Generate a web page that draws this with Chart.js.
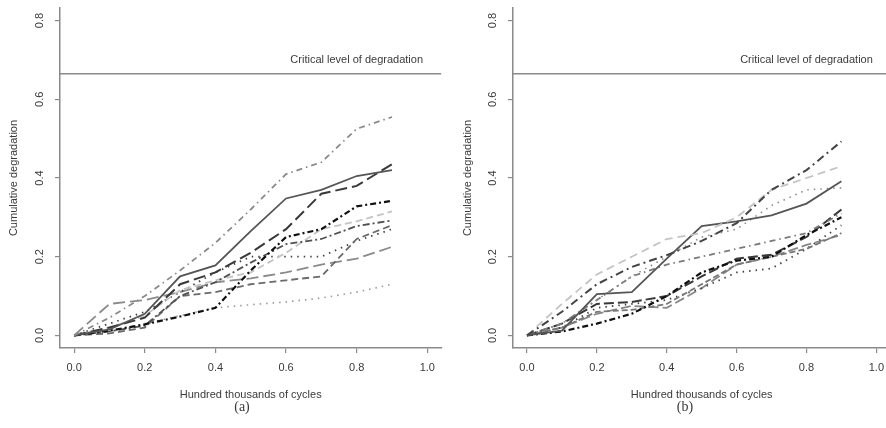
<!DOCTYPE html>
<html>
<head>
<meta charset="utf-8">
<script src="https://cdn.jsdelivr.net/npm/chart.js@4.4.1/dist/chart.umd.min.js"></script>
<style>
  html, body { margin: 0; padding: 0; background: #fff; overflow: hidden; }
  #wrap { position: relative; width: 886px; height: 428px; overflow: hidden; }
  canvas { position: absolute; top: 0; }
  #panelA { left: 0; }
  #panelB { left: 443px; }
</style>
</head>
<body>
<div id="wrap">
  <canvas id="panelA" width="443" height="428"></canvas>
  <canvas id="panelB" width="449" height="428"></canvas>
</div>
<script>
// inspection times (hundred thousands of cycles)
const cycles = [0, 0.1, 0.2, 0.3, 0.4, 0.5, 0.6, 0.7, 0.8, 0.9];
const xTicks = [0, 0.2, 0.4, 0.6, 0.8, 1.0];
const yTicks = [0, 0.2, 0.4, 0.6, 0.8];
const criticalLevel = 0.665;
const criticalText = 'Critical level of degradation';

// panel (a) degradation paths
const pathA1 = [0, 0.045, 0.10, 0.165, 0.235, 0.32, 0.41, 0.44, 0.525, 0.555];
const pathA2 = [0, 0.015, 0.055, 0.15, 0.178, 0.265, 0.348, 0.37, 0.405, 0.42];
const pathA3 = [0, 0.02, 0.045, 0.13, 0.16, 0.21, 0.27, 0.36, 0.38, 0.435];
const pathA4 = [0, 0.012, 0.028, 0.048, 0.07, 0.165, 0.25, 0.27, 0.328, 0.342];
const pathA5 = [0, 0.01, 0.025, 0.10, 0.135, 0.185, 0.232, 0.245, 0.278, 0.292];
const pathA6 = [0, 0.02, 0.05, 0.115, 0.14, 0.16, 0.21, 0.27, 0.29, 0.315];
const pathA7 = [0, 0.005, 0.02, 0.10, 0.11, 0.13, 0.14, 0.15, 0.245, 0.28];
const pathA8 = [0, 0.03, 0.06, 0.11, 0.16, 0.20, 0.20, 0.20, 0.24, 0.27];
const pathA9 = [0, 0.08, 0.09, 0.11, 0.135, 0.145, 0.16, 0.18, 0.195, 0.225];
const pathA10 = [0, 0.01, 0.03, 0.05, 0.07, 0.078, 0.085, 0.095, 0.11, 0.13];

// panel (b) degradation paths
const pathB1 = [0, 0.06, 0.13, 0.174, 0.204, 0.24, 0.285, 0.37, 0.42, 0.493];
const pathB2 = [0, 0.08, 0.155, 0.20, 0.245, 0.26, 0.30, 0.37, 0.40, 0.43];
const pathB3 = [0, 0.012, 0.105, 0.11, 0.195, 0.278, 0.29, 0.305, 0.335, 0.392];
const pathB4 = [0, 0.03, 0.09, 0.15, 0.20, 0.25, 0.27, 0.33, 0.37, 0.375];
const pathB5 = [0, 0.03, 0.09, 0.15, 0.18, 0.20, 0.22, 0.24, 0.26, 0.31];
const pathB6 = [0, 0.01, 0.03, 0.055, 0.10, 0.16, 0.19, 0.20, 0.255, 0.30];
const pathB7 = [0, 0.03, 0.08, 0.085, 0.10, 0.15, 0.195, 0.205, 0.25, 0.32];
const pathB8 = [0, 0.02, 0.06, 0.065, 0.08, 0.13, 0.18, 0.20, 0.22, 0.26];
const pathB9 = [0, 0.02, 0.07, 0.08, 0.09, 0.12, 0.16, 0.17, 0.22, 0.28];
const pathB10 = [0, 0.02, 0.055, 0.075, 0.07, 0.12, 0.18, 0.20, 0.23, 0.255];

const pathsA = [pathA1, pathA2, pathA3, pathA4, pathA5, pathA6, pathA7, pathA8, pathA9, pathA10];
const pathsB = [pathB1, pathB2, pathB3, pathB4, pathB5, pathB6, pathB7, pathB8, pathB9, pathB10];

// line styles: [colour, dash pattern, width]
const stylesA = [
  ['#8a8a8a', [6, 4, 1.5, 4], 1.8],
  ['#555555', [], 1.8],
  ['#383838', [12, 5], 2],
  ['#111111', [6, 3, 2, 3], 2.2],
  ['#505050', [7, 3, 2, 3], 1.8],
  ['#c4c4c4', [7, 4], 1.8],
  ['#6a6a6a', [7, 4], 1.8],
  ['#444444', [1.5, 5], 1.8],
  ['#8a8a8a', [12, 5], 1.8],
  ['#9a9a9a', [1.5, 5], 1.6]
];
const stylesB = [
  ['#444444', [8, 4, 2, 4], 2],
  ['#c4c4c4', [8, 5], 1.8],
  ['#555555', [], 1.8],
  ['#8a8a8a', [1.5, 5], 1.6],
  ['#7a7a7a', [6, 4, 1.5, 4], 1.8],
  ['#111111', [6, 3, 2, 3], 2.2],
  ['#383838', [10, 4], 2],
  ['#777777', [6, 3], 1.8],
  ['#444444', [1.5, 5], 1.8],
  ['#888888', [10, 4], 1.8]
];

const FONT = '"Liberation Sans", Arial, sans-serif';
const TEXT = '#3a3a3a';
const AXIS = '#8a8a8a';
const X_MIN = -0.04, X_MAX = 1.04;
const Y_MIN = -0.032, Y_MAX = 0.832;

// rotated y tick labels, critical-level label and panel caption
const annotate = {
  id: 'annotate',
  afterDraw(chart, args, opts) {
    const { ctx } = chart;
    const xs = chart.scales.x, ys = chart.scales.y;
    ctx.save();
    ctx.fillStyle = TEXT;
    ctx.font = '11px ' + FONT;
    ctx.textAlign = 'center';
    ctx.textBaseline = 'middle';
    ys.ticks.forEach(t => {
      ctx.save();
      ctx.translate(ys.right - 20, ys.getPixelForValue(t.value));
      ctx.rotate(-Math.PI / 2);
      ctx.fillText(t.value.toFixed(1), 0, 0);
      ctx.restore();
    });
    ctx.fillText(criticalText, xs.getPixelForValue(0.8), ys.getPixelForValue(0.70));
    ctx.font = '14px "Liberation Serif", "Times New Roman", serif';
    ctx.fillText(opts.caption, opts.captionX, 407);
    ctx.restore();
  }
};

function makeChart(id, paths, styles, axisWidth, titleGap, caption, captionX) {
  const datasets = paths.map((p, i) => ({
    data: p.map((v, j) => ({ x: cycles[j], y: v })),
    borderColor: styles[i][0],
    borderDash: styles[i][1],
    borderWidth: styles[i][2],
    pointRadius: 0,
    tension: 0,
    fill: false
  }));
  datasets.unshift({
    data: [{ x: X_MIN, y: criticalLevel }, { x: X_MAX, y: criticalLevel }],
    borderColor: '#8a8a8a',
    borderWidth: 1.6,
    pointRadius: 0
  });

  new Chart(document.getElementById(id), {
    type: 'line',
    data: { datasets },
    options: {
      responsive: false,
      animation: false,
      devicePixelRatio: 1,
      layout: { padding: { top: 8, right: id === 'panelA' ? 1 : 0, left: 0, bottom: 0 } },
      plugins: {
        legend: { display: false },
        tooltip: { enabled: false },
        annotate: { caption, captionX }
      },
      scales: {
        x: {
          type: 'linear',
          min: X_MIN,
          max: X_MAX,
          afterBuildTicks: s => { s.ticks = xTicks.map(v => ({ value: v })); },
          afterFit: s => { s.height = 80; },
          border: { display: true, color: AXIS, width: 1.5 },
          grid: { drawOnChartArea: false, drawTicks: true, tickLength: 5, color: AXIS, lineWidth: 1.2 },
          ticks: {
            color: TEXT,
            font: { size: 11, family: FONT },
            padding: 8,
            maxRotation: 0,
            callback: v => v.toFixed(1)
          },
          title: {
            display: true,
            text: 'Hundred thousands of cycles',
            color: TEXT,
            font: { size: 11, family: FONT },
            padding: { top: 0, bottom: 26 }
          }
        },
        y: {
          type: 'linear',
          min: Y_MIN,
          max: Y_MAX,
          afterBuildTicks: s => { s.ticks = yTicks.map(v => ({ value: v })); },
          afterFit: s => { s.width = axisWidth; },
          border: { display: true, color: AXIS, width: 1.5 },
          grid: { drawOnChartArea: false, drawTicks: true, tickLength: 5, color: AXIS, lineWidth: 1.2 },
          ticks: { display: false },
          title: {
            display: true,
            text: 'Cumulative degradation',
            color: TEXT,
            font: { size: 11, family: FONT },
            padding: { top: titleGap, bottom: 0 }
          }
        }
      }
    },
    plugins: [annotate]
  });
}

makeChart('panelA', pathsA, stylesA, 60, 7.4, '(a)', 242);
makeChart('panelB', pathsB, stylesB, 70, 18.4, '(b)', 242);
</script>
</body>
</html>
